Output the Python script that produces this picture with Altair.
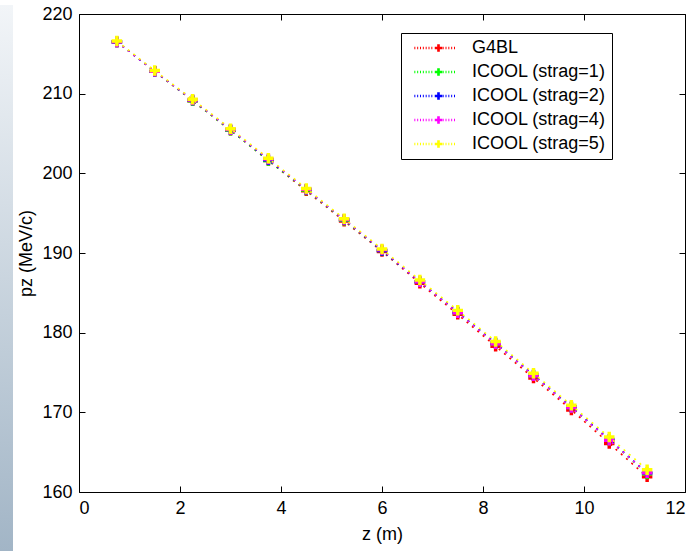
import altair as alt
import pandas as pd

# ---- data ----
z = [0.75, 1.5, 2.25, 3.0, 3.75, 4.5, 5.25, 6.0, 6.75, 7.5, 8.25, 9.0, 9.75, 10.5, 11.25]
g4bl = [216.5, 212.8, 209.1, 205.4, 201.6, 197.8, 194.0, 190.2, 186.2, 182.3, 178.3, 174.3, 170.3, 166.1, 161.9]
strag1 = [216.5, 212.8, 209.1, 205.4, 201.6, 197.9, 194.1, 190.3, 186.4, 182.5, 178.6, 174.6, 170.6, 166.5, 162.3]
strag2 = [216.5, 212.8, 209.2, 205.5, 201.7, 198.0, 194.2, 190.3, 186.4, 182.6, 178.7, 174.7, 170.7, 166.6, 162.4]
strag4 = [216.5, 212.8, 209.2, 205.5, 201.8, 198.0, 194.2, 190.4, 186.4, 182.5, 178.6, 174.6, 170.6, 166.5, 162.4]
strag5 = [216.6, 212.9, 209.3, 205.6, 201.9, 198.1, 194.3, 190.5, 186.6, 182.8, 178.9, 174.9, 170.9, 166.9, 162.8]
series_names = ["G4BL", "ICOOL (strag=1)", "ICOOL (strag=2)", "ICOOL (strag=4)", "ICOOL (strag=5)"]
series_colors = ["#ff0000", "#00ff00", "#0000ff", "#ff00ff", "#ffff00"]
x_ticks = [0, 2, 4, 6, 8, 10, 12]
y_ticks = [160, 170, 180, 190, 200, 210, 220]

rows = []
for k, (name, vals) in enumerate(zip(series_names, [g4bl, strag1, strag2, strag4, strag5])):
    for zz, v in zip(z, vals):
        rows.append({"z": zz, "pz": v, "series": name, "k": k})
df = pd.DataFrame(rows)

W, H = 606, 478
FONT = "Liberation Sans"
FS = 18

xs = alt.Scale(domain=[0, 12], nice=False, zero=False)
ys = alt.Scale(domain=[160, 220], nice=False, zero=False)
cs = alt.Scale(domain=series_names, range=series_colors)

# plus marker (filled)
PLUS = "M-1,-0.33H-0.33V-1H0.33V-0.33H1V0.33H0.33V1H-0.33V0.33H-1Z"

# legend symbol: dotted segment with a plus in the middle
SC = 1 / 1.2  # observed symbol scale compensation


def f(v):
    return f"{v * SC:.2f}"


parts = []
for i in range(15):
    px = -2 + i * 3.4
    if 21.5 < px < 32:
        continue
    parts.append(f"M{f(px)},{f(-1.5)}h{f(1.2)}v{f(3)}h{f(-1.2)}Z")
cx = 27
parts.append(
    f"M{f(cx-4.5)},{f(-1.6)}H{f(cx-1.6)}V{f(-4.5)}H{f(cx+1.6)}V{f(-1.6)}H{f(cx+4.5)}"
    f"V{f(1.6)}H{f(cx+1.6)}V{f(4.5)}H{f(cx-1.6)}V{f(1.6)}H{f(cx-4.5)}Z"
)
LEG_SYMBOL = "".join(parts)

LEGEND = alt.Legend(title=None, orient="none", legendX=322, legendY=19,
                    symbolType=LEG_SYMBOL, symbolSize=4, symbolStrokeWidth=0,
                    labelFont=FONT, labelFontSize=FS, labelColor="black", labelOffset=47,
                    rowPadding=6, padding=6, strokeColor="black", fillColor="white",
                    labelLimit=300)


def label_axis_x():
    return alt.Axis(orient="bottom", values=x_ticks, ticks=False, tickSize=0, domain=False,
                    grid=False, labelFont=FONT, labelFontSize=FS, labelColor="black",
                    labelPadding=7, title="z (m)", titleFont=FONT, titleFontSize=FS,
                    titleFontWeight="normal", titleColor="black", titlePadding=8)


def label_axis_y():
    return alt.Axis(orient="left", values=y_ticks, ticks=False, tickSize=0, domain=False,
                    grid=False, labelFont=FONT, labelFontSize=FS, labelColor="black",
                    labelPadding=7, title="pz (MeV/c)", titleFont=FONT, titleFontSize=FS,
                    titleFontWeight="normal", titleColor="black", titlePadding=6)


def tick_axis(orient, offset, values):
    return alt.Axis(orient=orient, offset=offset, values=values, labels=False, domain=False,
                    grid=False, ticks=True, tickSize=6, tickColor="black", tickWidth=1,
                    title=None)


layers = []

strip = alt.Chart(pd.DataFrame({"a": [0]})).mark_rect(
    fill=alt.Gradient(gradient="linear",
                      stops=[alt.GradientStop(offset=0, color="#f2f5f8"),
                             alt.GradientStop(offset=1, color="#a2b5c6")],
                      x1=0, x2=0, y1=0, y2=1),
).encode(x=alt.value(-79), x2=alt.value(-66), y=alt.value(-9), y2=alt.value(537))
layers.append(strip)

for k, name in enumerate(series_names):
    sub = alt.Chart(df).transform_filter(alt.datum.series == name)
    if k == 0:
        lx, ly = label_axis_x(), label_axis_y()
        px_, py_ = tick_axis("top", -H, x_ticks), tick_axis("right", -W, y_ticks)
    else:
        lx = ly = px_ = py_ = None
    line = sub.mark_line(strokeDash=[2, 5], strokeWidth=1.6, color=series_colors[k]).encode(
        x=alt.X("z:Q", scale=xs, axis=lx),
        y=alt.Y("pz:Q", scale=ys, axis=ly),
    )
    pts = sub.mark_point(shape=PLUS, filled=True, size=110, opacity=1, strokeWidth=0).encode(
        x=alt.X("z:Q", scale=xs, axis=px_),
        y=alt.Y("pz:Q", scale=ys, axis=py_),
        color=alt.Color("series:N", scale=cs, legend=LEGEND),
    )
    layers += [line, pts]

ghost = alt.Chart(df).mark_point(opacity=0).encode(
    x=alt.X("z:Q", scale=xs, axis=tick_axis("bottom", -H, x_ticks)),
    y=alt.Y("pz:Q", scale=ys, axis=tick_axis("left", -W, y_ticks)),
)
layers.append(ghost)

chart = alt.layer(*layers).resolve_axis(
    x="independent", y="independent"
).properties(
    width=W, height=H,
    padding={"left": 79, "top": 14, "right": 11, "bottom": 59},
    autosize=alt.AutoSizeParams(type="none"),
    background="white",
).configure_view(stroke="black", strokeWidth=1)

chart.save("out.html", embed_options={"renderer": "svg", "actions": False})
